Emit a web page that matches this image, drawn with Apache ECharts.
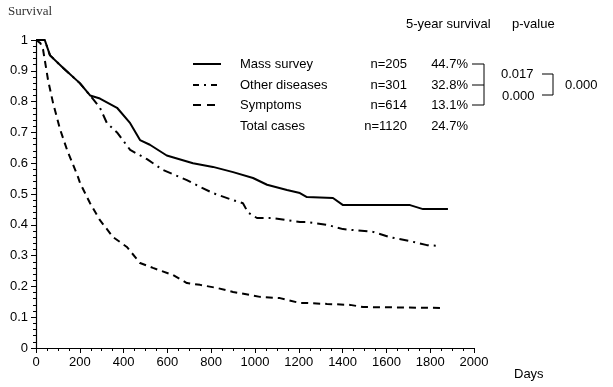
<!DOCTYPE html>
<html><head><meta charset="utf-8">
<script src="https://cdn.jsdelivr.net/npm/echarts@6/dist/echarts.min.js"></script>
<style>html,body{margin:0;padding:0;background:#fff}#c{width:613px;height:387px}</style>
</head><body><div id="c"></div>
<script>
var xTicks = [0,200,400,600,800,1000,1200,1400,1600,1800,2000];
var massSurvey = [[0,1],[40,1],[64,0.95],[123,0.91],[200,0.86],[247,0.82],[292,0.81],[370,0.78],[430,0.73],[475,0.675],[520,0.66],[597,0.625],[717,0.60],[808,0.588],[900,0.571],[991,0.552],[1055,0.53],[1146,0.513],[1205,0.503],[1237,0.49],[1356,0.487],[1402,0.464],[1708,0.464],[1767,0.451],[1881,0.451]];
var otherDiseases = [[0,1],[40,1],[64,0.95],[123,0.91],[200,0.86],[247,0.82],[292,0.78],[324,0.73],[370,0.70],[430,0.643],[507,0.613],[580,0.578],[689,0.545],[749,0.523],[808,0.503],[900,0.48],[945,0.47],[968,0.44],[1009,0.422],[1082,0.422],[1205,0.409],[1237,0.409],[1329,0.40],[1402,0.386],[1539,0.377],[1616,0.36],[1708,0.347],[1785,0.334],[1845,0.331]];
var symptoms = [[0,1],[20,0.99],[32,0.97],[55,0.87],[78,0.795],[110,0.71],[142,0.643],[155,0.62],[192,0.555],[201,0.536],[247,0.47],[292,0.415],[352,0.36],[415,0.328],[475,0.276],[534,0.26],[625,0.237],[689,0.211],[749,0.205],[826,0.195],[900,0.182],[1023,0.166],[1114,0.162],[1205,0.146],[1237,0.146],[1329,0.143],[1434,0.14],[1493,0.133],[1858,0.13]];
var groupNames = ['Mass survey','Other diseases','Symptoms','Total cases'];
var groupN = ['n=205','n=301','n=614','n=1120'];
var fiveYear = ['44.7%','32.8%','13.1%','24.7%'];
var pValues = ['0.017','0.000','0.000'];

var chart = echarts.init(document.getElementById('c'), null, {renderer:'canvas'});
var sans = '"Liberation Sans", Arial, sans-serif';
var txt = function(x,y,s,align){return {type:'text',x:x,y:y,style:{text:s,fill:'#000',font:'13px '+sans,textAlign:align||'left',textVerticalAlign:'middle'}};};
var ln = function(x1,y1,x2,y2,dash,w){return {type:'line',shape:{x1:x1,y1:y1,x2:x2,y2:y2},style:{stroke:'#000',lineWidth:w||1,lineDash:dash||null}};};
var rows = [64,85,105,126];
var g = [
  {type:'text',x:8,y:12,style:{text:'Survival',fill:'#333',font:'13px "Liberation Serif", "DejaVu Serif", serif',textVerticalAlign:'middle'}},
  {type:'text',x:514,y:374,style:{text:'Days',fill:'#000',font:'13px '+sans,textVerticalAlign:'middle'}},
  txt(406,24,'5-year survival'), txt(512,24,'p-value'),
  ln(193,64,221,64,null,2), ln(193,85,221,85,[6,5,2,5],2), ln(193,105,221,105,[8,6],2)
];
for (var i=0;i<4;i++){
  g.push(txt(240,rows[i],groupNames[i]));
  g.push(txt(407,rows[i],groupN[i],'right'));
  g.push(txt(468,rows[i],fiveYear[i],'right'));
}
g.push(ln(472,64,484,64), ln(472,85,484,85), ln(472,105,484,105), ln(484,64,484,105));
g.push(txt(501,74,pValues[0]), txt(502,96,pValues[1]));
g.push(ln(542,74,553,74), ln(542,95,553,95), ln(553,74,553,95));
g.push(txt(565,85,pValues[2]));

chart.setOption({
  animation:false,
  backgroundColor:'#fff',
  grid:{left:36,right:139,top:40,bottom:39},
  xAxis:{type:'value',min:0,max:2000,interval:200,
    axisLine:{show:true,lineStyle:{color:'#000',width:1.2}},
    axisTick:{show:true,inside:false,length:5,lineStyle:{color:'#000'}},
    minorTick:{show:true,splitNumber:4,length:3,lineStyle:{color:'#000'}},
    splitLine:{show:false},
    axisLabel:{color:'#000',fontSize:13,fontFamily:sans,margin:8,formatter:function(v){return String(v);}}},
  yAxis:{type:'value',min:0,max:1,interval:0.1,
    axisLine:{show:true,lineStyle:{color:'#000',width:1.2}},
    axisTick:{show:true,inside:false,length:5,lineStyle:{color:'#000'}},
    minorTick:{show:true,splitNumber:5,length:3,lineStyle:{color:'#000'}},
    splitLine:{show:false},
    axisLabel:{color:'#000',fontSize:13,fontFamily:sans,margin:8}},
  series:[
    {type:'line',data:massSurvey,showSymbol:false,lineStyle:{color:'#000',width:2}},
    {type:'line',data:otherDiseases,showSymbol:false,lineStyle:{color:'#000',width:2,type:[9,5,2,5]}},
    {type:'line',data:symptoms,showSymbol:false,lineStyle:{color:'#000',width:2,type:[7,5]}}
  ],
  graphic:g
});
</script></body></html>
